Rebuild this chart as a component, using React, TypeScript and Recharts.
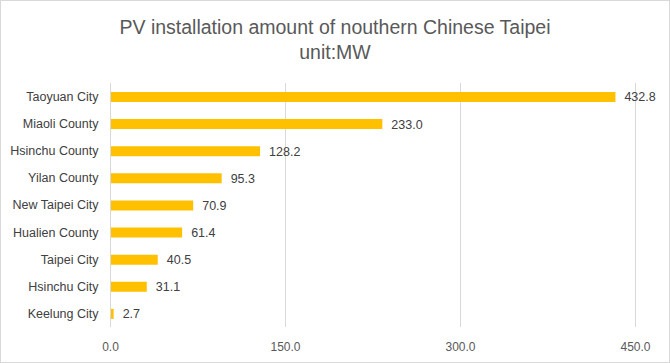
import { BarChart, Bar, XAxis, YAxis, CartesianGrid, LabelList } from 'recharts';

const cities = [
  'Taoyuan City',
  'Miaoli County',
  'Hsinchu County',
  'Yilan County',
  'New Taipei City',
  'Hualien County',
  'Taipei City',
  'Hsinchu City',
  'Keelung City',
];

const capacityMW = [432.8, 233.0, 128.2, 95.3, 70.9, 61.4, 40.5, 31.1, 2.7];

const xTicks = [0, 150, 300, 450];

const FONT = '"Liberation Sans", Arial, sans-serif';

export default function App() {
  const chartData = cities.map((name, i) => ({ name, value: capacityMW[i] }));

  return (
    <div style={{ position: 'absolute', left: 0, top: 0, width: 670, height: 363, background: '#fff', fontFamily: FONT }}>
      <div
        style={{
          position: 'absolute',
          left: 0,
          top: 15,
          width: 670,
          textAlign: 'center',
          color: '#595959',
          fontSize: 19.5,
          lineHeight: '25px',
        }}
      >
        PV installation amount of nouthern Chinese Taipei
        <br />
        unit:MW
      </div>
      <BarChart
        width={670}
        height={363}
        data={chartData}
        layout="vertical"
        margin={{ top: 83, right: 34.5, bottom: 6, left: 0 }}
        barCategoryGap={0}
      >
        <CartesianGrid horizontal={false} stroke="#d9d9d9" />
        <XAxis
          type="number"
          domain={[0, 450]}
          ticks={xTicks}
          tickFormatter={(v) => Number(v).toFixed(1)}
          axisLine={false}
          tickLine={false}
          tickMargin={9}
          height={30}
          tick={{ fill: '#595959', fontSize: 12, fontFamily: FONT }}
        />
        <YAxis
          type="category"
          dataKey="name"
          width={110.5}
          axisLine={{ stroke: '#d9d9d9' }}
          tickLine={false}
          tickSize={0}
          tickMargin={12}
          tick={{ fill: '#404040', fontSize: 12.5, fontFamily: FONT }}
        />
        <Bar dataKey="value" fill="#FFC000" barSize={10} isAnimationActive={false}>
          <LabelList
            dataKey="value"
            position="right"
            offset={9}
            formatter={(v: number) => Number(v).toFixed(1)}
            style={{ fill: '#404040', fontSize: 12.5, fontFamily: FONT }}
          />
        </Bar>
      </BarChart>
      <div
        style={{
          position: 'absolute',
          left: 0,
          top: 0,
          width: 670,
          height: 363,
          boxSizing: 'border-box',
          border: '1px solid #d9d9d9',
          pointerEvents: 'none',
        }}
      />
    </div>
  );
}
